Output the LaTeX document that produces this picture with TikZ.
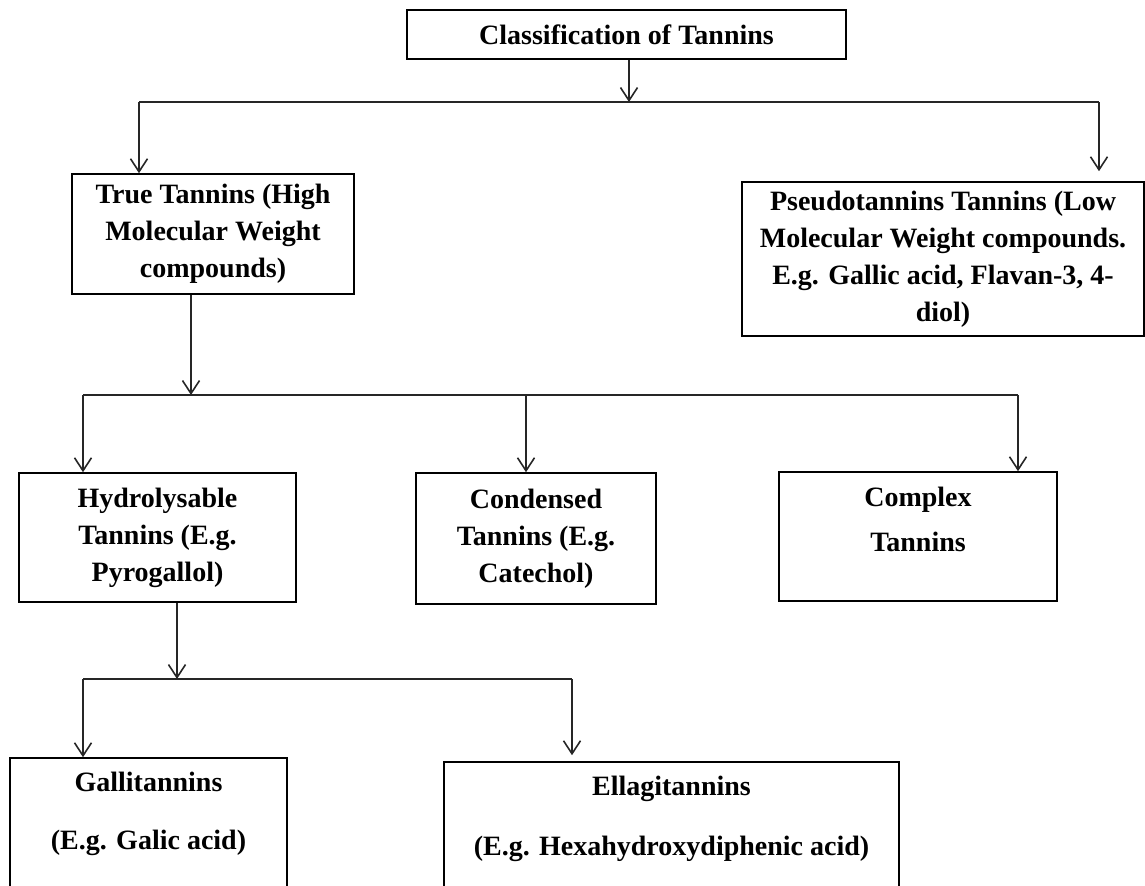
\documentclass[tikz,border=0pt]{standalone}
\usepackage{fontspec}
\setmainfont{Liberation Serif}
\usetikzlibrary{arrows.meta}
\begin{document}
\begin{tikzpicture}[x=0.5pt,y=-0.5pt,
  box/.style={draw, line width=0.8pt, rectangle, align=center, inner sep=0pt,
    font=\fontsize{14}{18.5}\selectfont\bfseries},
  link/.style={line width=0.8pt, draw=black!85},
  arr/.style={link, -{Straight Barb[length=6.5pt,width=8.5pt,line width=0.8pt]}}]
\useasboundingbox (0,0) rectangle (1145,885);
\clip (0,0) rectangle (1145,885);

% boxes
\node[box, minimum width=219.5pt, minimum height=24.5pt] (top) at (626.5,34.5)
  {Classification of Tannins};
\node[box, minimum width=141pt, minimum height=60pt] (true) at (213,234)
  {True Tannins (High\\Molecular Weight\\compounds)};
\node[box, minimum width=201pt, minimum height=77pt] (pseudo) at (943,259)
  {Pseudotannins Tannins (Low\\Molecular Weight compounds.\\E.g. Gallic acid, Flavan-3, 4-\\diol)};
\node[box, minimum width=138.5pt, minimum height=64.5pt] (hyd) at (157.5,537.5)
  {Hydrolysable\\Tannins (E.g.\\Pyrogallol)};
\node[box, minimum width=120pt, minimum height=65.5pt] (cond) at (536,538.5)
  {Condensed\\Tannins (E.g.\\Catechol)};
\node[box, minimum width=139pt, minimum height=64.5pt] (comp) at (918,536.5)
  {Complex\\[4pt]Tannins\\[-1pt]\mbox{}};
\node[box, minimum width=138.5pt, minimum height=86pt] (gall) at (148.5,844)
  {Gallitannins\\[10.5pt](E.g. Galic acid)\\[14.5pt]\mbox{}};
\node[box, minimum width=227.5pt, minimum height=84pt] (ella) at (671.5,846)
  {Ellagitannins\\[11.5pt](E.g. Hexahydroxydiphenic acid)\\[11.5pt]\mbox{}};

% junction points of the branch lines
\coordinate (j1) at (629,102);
\coordinate (j1l) at (139,102);
\coordinate (j1r) at (1099,102);
\coordinate (j2) at (191,395);
\coordinate (j2l) at (83,395);
\coordinate (j2m) at (526,395);
\coordinate (j2r) at (1018,395);
\coordinate (j3) at (177,679);
\coordinate (j3l) at (83,679);
\coordinate (j3r) at (572,679);

% first level
\draw[arr] (top.south -| j1) -- (j1);
\draw[link] (j1l) -- (j1r);
\draw[arr] (j1l) -- (j1l |- true.north);
\draw[arr] (j1r) -- ([yshift=5pt]j1r |- pseudo.north);

% second level
\draw[arr] (true.south -| j2) -- (j2);
\draw[link] (j2l) -- (j2r);
\draw[arr] (j2l) -- (j2l |- hyd.north);
\draw[arr] (j2m) -- (j2m |- cond.north);
\draw[arr] (j2r) -- (j2r |- comp.north);

% third level
\draw[arr] (hyd.south -| j3) -- (j3);
\draw[link] (j3l) -- (j3r);
\draw[arr] (j3l) -- (j3l |- gall.north);
\draw[arr] (j3r) -- ([yshift=3pt]j3r |- ella.north);
\end{tikzpicture}
\end{document}
